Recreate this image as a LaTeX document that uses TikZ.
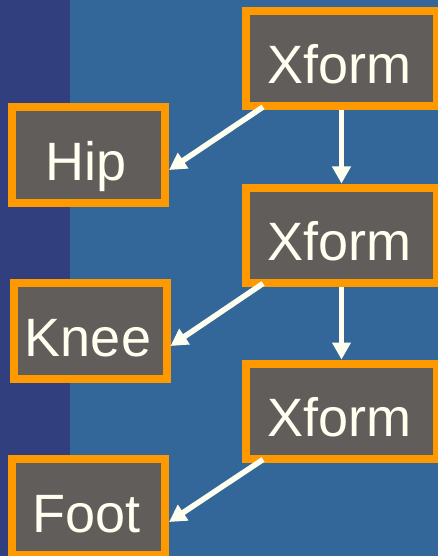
\documentclass[tikz,border=0pt]{standalone}
\usepackage{fontspec}
\setmainfont{Liberation Sans}
\usetikzlibrary{arrows.meta}
\definecolor{stripblue}{HTML}{323F7F}
\definecolor{panelblue}{HTML}{336699}
\definecolor{boxgray}{HTML}{615D5B}
\definecolor{boxorange}{HTML}{FF9900}
\definecolor{cream}{HTML}{FFFFF0}
\tikzset{
  joint/.style={draw=boxorange, fill=boxgray, line width=8pt, rectangle,
    inner sep=0pt, text=cream, font=\fontsize{54}{54}\selectfont,
    text height=50pt, text depth=0pt},
  xformbox/.style={joint, minimum width=191pt, minimum height=95pt},
  partbox/.style={joint, minimum width=153pt, minimum height=96pt},
  link/.style={draw=cream, line width=5.5pt, -{Triangle[length=17pt,width=18pt]}}
}
\newcommand{\lbl}[1]{\hspace*{-4pt}#1}
\begin{document}
\begin{tikzpicture}[x=1pt, y=-1pt]
  \useasboundingbox (0,0) rectangle (438,556);
  \clip (0,0) rectangle (438,556);
  % background panels
  \fill[panelblue] (0,0) rectangle (438,556);
  \fill[stripblue] (0,0) rectangle (70,556);
  % transform chain
  \node[xformbox] (xf1) at (341.5,58.5) {\lbl{Xform}};
  \node[xformbox] (xf2) at (341.5,235) {\lbl{Xform}};
  \node[xformbox] (xf3) at (341.5,411) {\lbl{Xform}};
  % body parts
  \node[partbox] (hip)  at (88.5,155) {\lbl{Hip}};
  \node[partbox] (knee) at (90,331)   {\lbl{Knee}};
  \node[partbox] (foot) at (88.5,507) {\lbl{Foot}};
  % connectors
  \draw[link] ([xshift=21pt,yshift=3pt]xf1.south west) -- ([yshift=-15pt]hip.east);
  \draw[link] (xf1.south) -- (xf2.north);
  \draw[link] ([xshift=21pt,yshift=3pt]xf2.south west) -- ([yshift=-15pt]knee.east);
  \draw[link] (xf2.south) -- (xf3.north);
  \draw[link] ([xshift=21pt,yshift=3pt]xf3.south west) -- ([yshift=-15pt]foot.east);
\end{tikzpicture}
\end{document}
